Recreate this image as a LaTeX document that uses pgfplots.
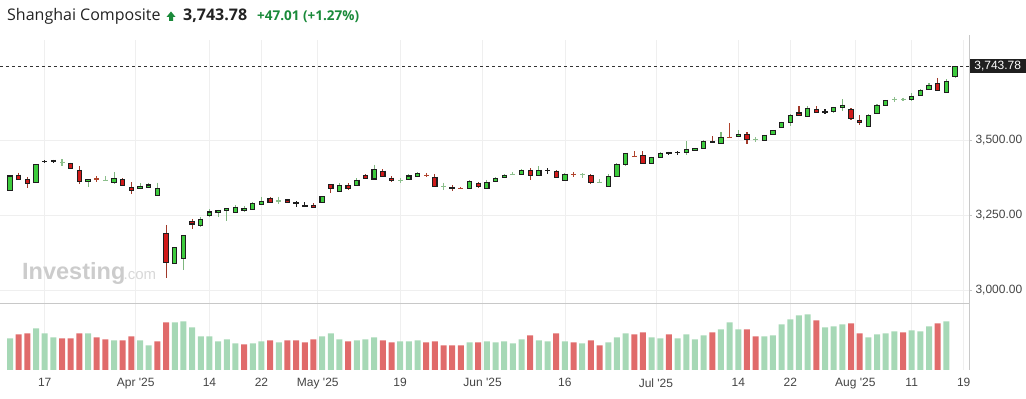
\documentclass[border=0pt]{standalone}
\usepackage{pgfplots}
\pgfplotsset{compat=1.18}
\usepackage{pgfplotstable}
\usepackage{fontspec}
\setmainfont{Liberation Sans}
\newfontfamily\titlefont{Open Sans}
\definecolor{upgreen}{HTML}{3DCB3D}
\definecolor{downred}{HTML}{D11A1A}
\definecolor{bodyline}{HTML}{1E1E1E}
\definecolor{wickgreen}{HTML}{7FB77F}
\definecolor{wickred}{HTML}{A0392A}
\definecolor{crossgreen}{HTML}{8CBF8C}
\definecolor{crossred}{HTML}{B0432C}
\definecolor{volgreen}{HTML}{A6D8B6}
\definecolor{volred}{HTML}{E06B6B}
\definecolor{gridgray}{HTML}{EFEFEF}
\definecolor{sepgray}{HTML}{C8C8C8}
\definecolor{labelgray}{HTML}{444444}
\definecolor{titlegray}{HTML}{222222}
\definecolor{titlegreen}{HTML}{1A8A3A}
\definecolor{wmgray}{HTML}{CCCCCC}
\definecolor{wmgray2}{HTML}{D8D8D8}
\definecolor{boxdark}{HTML}{1F1F1F}
\definecolor{dashgray}{HTML}{333333}

% k: 1 = up candle, 2 = down candle, 3 = doji, 4 = doji (red wick), 5 = green cross, 6 = red cross
\pgfplotstableread{
i o h l c k
0 3331 3383 3329 3380 1
1 3383 3391 3367 3369 2
2 3369 3377 3341 3356 2
3 3359 3420 3357 3419 1
4 3427 3433 3422 3428 3
5 3430 3435 3425 3431 3
6 3426 3436 3414 3426 5
7 3422 3425 3403 3406 2
8 3399 3413 3354 3361 2
9 3362 3369 3342 3369 1
10 3370 3380 3361 3370 6
11 3366 3380 3366 3366 5
12 3359 3392 3352 3372 1
13 3369 3372 3347 3349 2
14 3342 3359 3319 3332 2
15 3339 3356 3338 3346 1
16 3342 3358 3342 3350 1
17 3316 3358 3316 3339 1
18 3189 3217 3039 3091 2
19 3088 3143 3085 3142 1
20 3106 3184 3067 3182 1
21 3228 3237 3202 3220 2
22 3214 3244 3211 3236 1
23 3249 3269 3244 3260 1
24 3258 3267 3244 3266 1
25 3264 3273 3231 3272 1
26 3259 3283 3258 3276 1
27 3264 3280 3260 3272 1
28 3269 3294 3267 3289 1
29 3286 3311 3285 3296 1
30 3306 3310 3291 3292 2
31 3297 3311 3286 3297 5
32 3300 3304 3289 3292 2
33 3289 3297 3278 3289 3
34 3281 3292 3278 3281 3
35 3282 3289 3273 3276 2
36 3291 3313 3289 3311 1
37 3352 3353 3324 3338 2
38 3329 3356 3327 3349 1
39 3349 3356 3333 3338 2
40 3349 3372 3347 3366 1
41 3382 3386 3370 3371 2
42 3370 3417 3367 3401 1
43 3396 3403 3377 3378 2
44 3373 3380 3359 3364 2
45 3366 3373 3358 3366 5
46 3369 3387 3368 3380 1
47 3379 3393 3378 3387 1
48 3382 3390 3376 3382 6
49 3375 3387 3345 3346 2
50 3346 3358 3334 3346 5
51 3341 3349 3331 3341 4
52 3338 3344 3338 3338 6
53 3339 3366 3338 3362 1
54 3356 3359 3341 3346 2
55 3339 3367 3338 3359 1
56 3362 3376 3361 3372 1
57 3376 3386 3373 3382 1
58 3386 3392 3382 3386 5
59 3386 3402 3384 3399 1
60 3399 3406 3366 3382 2
61 3382 3413 3381 3399 1
62 3398 3406 3388 3398 3
63 3396 3399 3372 3376 2
64 3366 3389 3363 3386 1
65 3386 3392 3378 3386 6
66 3386 3389 3372 3386 5
67 3382 3386 3354 3358 2
68 3359 3369 3359 3359 5
69 3344 3386 3343 3379 1
70 3379 3422 3378 3419 1
71 3417 3457 3415 3456 1
72 3446 3462 3446 3446 6
73 3449 3462 3421 3422 2
74 3422 3445 3421 3442 1
75 3442 3459 3441 3456 1
76 3456 3461 3449 3456 3
77 3458 3463 3451 3458 3
78 3459 3497 3449 3469 1
79 3466 3474 3464 3472 1
80 3472 3499 3471 3496 1
81 3494 3513 3491 3494 4
82 3489 3526 3488 3509 1
83 3509 3556 3509 3509 6
84 3512 3532 3511 3519 1
85 3519 3526 3486 3502 2
86 3502 3509 3492 3502 5
87 3499 3518 3498 3516 1
88 3519 3534 3518 3532 1
89 3542 3561 3540 3559 1
90 3559 3586 3547 3582 1
91 3590 3613 3579 3582 2
92 3579 3612 3578 3606 1
93 3602 3612 3589 3592 2
94 3594 3602 3587 3594 3
95 3596 3611 3589 3609 1
96 3609 3636 3596 3616 1
97 3602 3606 3566 3571 2
98 3566 3582 3551 3559 2
99 3546 3586 3545 3582 1
100 3589 3619 3588 3616 1
101 3616 3634 3614 3632 1
102 3636 3644 3626 3636 5
103 3636 3641 3631 3636 5
104 3634 3656 3631 3646 1
105 3649 3669 3648 3666 1
106 3669 3690 3666 3683 1
107 3687 3707 3665 3666 2
108 3659 3702 3658 3696 1
109 3712 3748 3706 3743.78 1
}\candles

\pgfplotsset{
  seg/.style n args={3}{quiver={u=0, v={#1}}, -, draw=#2, line width=#3, line cap=butt, mark=none},
  only kind/.style={restrict expr to domain={\thisrow{k}}{#1:#1}, unbounded coords=discard},
}
% wick: from high down to low
\newcommand\wick[3]{\addplot[seg={\thisrow{l}-\thisrow{h}}{#2}{#3}, only kind=#1] table[x=i, y=h] {\candles};}
% body border: dark bar slightly larger than the body
\newcommand\bodyout[1]{\addplot[seg={-abs(\thisrow{o}-\thisrow{c})-3.6}{bodyline}{5.4pt}, only kind=#1] table[x=i, y expr={max(\thisrow{o},\thisrow{c})+1.8}] {\candles};}
% body fill
\newcommand\bodyin[2]{\addplot[seg={-max(abs(\thisrow{o}-\thisrow{c})-3.6,0)}{#2}{3.2pt}, only kind=#1] table[x=i, y expr={max(\thisrow{o},\thisrow{c})-1.8}] {\candles};}
% doji / cross bar
\newcommand\flatbar[4]{\addplot[seg={-#4}{#2}{#3}, only kind=#1] table[x=i, y expr={\thisrow{c}+#4/2}] {\candles};}

\begin{document}
\begin{tikzpicture}[x=1pt,y=1pt]
\useasboundingbox (0,0) rectangle (1026,399);

% price panel
\begin{axis}[
  at={(0pt,95pt)}, anchor=south west, scale only axis,
  width=969pt, height=264pt,
  xmin=-1.156, xmax=110.61, ymin=2953.33, ymax=3833.33,
  axis line style={draw=none},
  xtick={4,14.5,23,29,35.5,45,54.5,64,74.5,84,90,97.5,104,110},
  xticklabels={}, xmajorgrids, x tick style={draw=none},
  ytick={3000,3250,3500}, ytick pos=right, yticklabel pos=right, ymajorgrids,
  y tick style={draw=sepgray, line width=0.8pt}, tick align=outside, major tick length=3pt,
  major grid style={draw=gridgray, line width=0.8pt},
  scaled y ticks=false,
  yticklabel style={font=\fontsize{12}{14}\selectfont, text=labelgray,
    /pgf/number format/.cd, fixed, fixed zerofill, precision=2, 1000 sep={,}, assume math mode=true},
  clip=false,
]
\addplot[dashgray, line width=0.8pt, dash pattern=on 3pt off 3pt] coordinates {(-1.156,3743.78) (110.61,3743.78)};
% wicks
\wick{1}{wickgreen}{1.1pt}
\wick{2}{wickred}{1.1pt}
\wick{3}{bodyline}{1.1pt}
\wick{4}{wickred}{1.1pt}
\wick{5}{crossgreen}{1.1pt}
\wick{6}{crossred}{1.1pt}
% bodies
\bodyout{1}
\bodyout{2}
\bodyin{1}{upgreen}
\bodyin{2}{downred}
\flatbar{3}{bodyline}{5.4pt}{5.6}
\flatbar{4}{bodyline}{5.4pt}{5.6}
\flatbar{5}{crossgreen}{5pt}{4}
\flatbar{6}{crossred}{5pt}{4}
\end{axis}

% volume panel
\begin{axis}[
  at={(0pt,29pt)}, anchor=south west, scale only axis,
  width=969pt, height=66pt,
  xmin=-1.156, xmax=110.61, ymin=0, ymax=66,
  axis line style={draw=none}, ytick=\empty,
  xtick={4,14.5,23,29,35.5,45,54.5,64,74.5,84,90,97.5,104,110},
  xticklabels={17,Apr \textquotesingle 25,14,22,May \textquotesingle 25,19,Jun \textquotesingle 25,16,Jul \textquotesingle 25,14,22,Aug \textquotesingle 25,11,19},
  xmajorgrids, x tick style={draw=none},
  major grid style={draw=gridgray, line width=0.8pt},
  xticklabel style={font=\fontsize{12}{14}\selectfont, text=labelgray, yshift=-5pt},
]
\addplot[ybar, bar width=6pt, bar shift=0pt, fill=volgreen, draw=none] coordinates {
(0,31.7) (3,41.7) (4,36.7) (5,32.7) (9,36.7) (12,29.7) (15,29.7) (16,24.7)
(19,47.7) (20,48.7) (21,42.7) (22,33.7) (23,33.7) (24,28.7) (25,30.7) (26,26.7)
(28,26.7) (29,28.7) (31,27.7) (36,33.7) (37,36.7) (38,30.7) (40,29.7) (41,30.7) (42,32.7)
(45,28.7) (46,28.7) (47,29.7) (53,27.7) (55,28.7) (56,27.7) (57,28.7) (58,26.7) (59,30.7)
(61,29.7) (62,28.7) (64,28.7) (66,26.7) (69,27.7) (70,32.7) (71,36.7) (74,32.7) (75,31.7)
(77,31.7) (78,35.7) (79,30.7) (80,34.7) (82,40.7) (83,47.7) (84,40.7) (87,33.7) (88,34.7)
(89,45.7) (90,50.7) (91,54.7) (92,55.7) (94,42.7) (95,43.7) (96,45.7) (99,32.7) (100,35.7)
(101,36.7) (102,38.7) (104,39.7) (105,38.7) (106,43.7) (108,48.7)
};
\addplot[ybar, bar width=6pt, bar shift=0pt, fill=volred, draw=none] coordinates {
(1,35.7) (2,36.7) (6,31.7) (7,31.7) (8,36.7) (10,32.7) (11,30.7) (13,29.7) (14,33.7) (17,28.7)
(18,47.7) (27,25.7) (30,29.7) (32,29.7) (33,29.7) (34,27.7) (35,30.7) (39,28.7) (43,29.7) (44,27.7)
(48,27.7) (49,28.7) (50,24.7) (51,24.7) (52,24.7) (54,27.7) (60,34.7) (63,36.7) (65,27.7) (67,29.7)
(68,24.7) (72,35.7) (73,37.7) (76,35.7) (81,37.7) (85,40.7) (86,33.7) (93,49.7) (97,46.7) (98,36.7)
(103,37.7) (107,46.7)
};
\end{axis}

% frame lines
\draw[sepgray, line width=1pt] (0,95) -- (969,95);
\draw[sepgray, line width=1pt] (969,29) -- (969,364);

% current price box
\node[fill=boxdark, text=white, font=\fontsize{12}{14}\selectfont, inner sep=0pt,
      minimum width=56pt, minimum height=14pt, anchor=west] at (969.5,332.7) {3,743.78};

% watermark
\node[anchor=base west, inner sep=0pt, text=wmgray, font=\bfseries\fontsize{23.5}{26}\selectfont] at (22,119) {Investing};
\node[anchor=base west, inner sep=0pt, text=wmgray2, font=\fontsize{15}{17}\selectfont] at (123.5,119) {.com};

% title
\node[anchor=base west, inner sep=0pt, text=titlegray, font=\titlefont\fontsize{16}{18}\selectfont] at (7,378) {Shanghai Composite};
\fill[titlegreen] (171,387.5) -- (175.5,382) -- (173,382) -- (173,378) -- (169,378) -- (169,382) -- (166.5,382) -- cycle;
\node[anchor=base west, inner sep=0pt, text=titlegray, font=\titlefont\bfseries\fontsize{16}{18}\selectfont] at (183,378) {3,743.78};
\node[anchor=base west, inner sep=0pt, text=titlegreen, font=\titlefont\bfseries\fontsize{13.5}{16}\selectfont] at (257,378) {+47.01 (+1.27\%)};
\end{tikzpicture}
\end{document}
